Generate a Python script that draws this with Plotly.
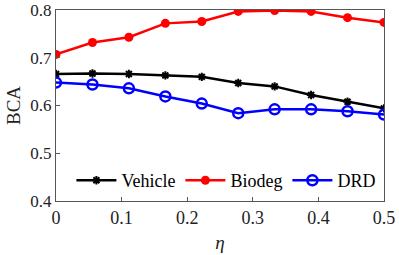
import plotly.graph_objects as go

eta = [0, 0.0556, 0.1111, 0.1667, 0.2222, 0.2778, 0.3333, 0.3889, 0.4444, 0.5]
vehicle = [0.666, 0.667, 0.666, 0.663, 0.660, 0.647, 0.640, 0.622, 0.608, 0.594]
biodeg = [0.707, 0.732, 0.743, 0.772, 0.776, 0.797, 0.799, 0.797, 0.784, 0.774]
drd = [0.648, 0.644, 0.636, 0.619, 0.604, 0.584, 0.592, 0.592, 0.588, 0.581]
x_ticks = [0, 0.1, 0.2, 0.3, 0.4, 0.5]
y_ticks = [0.4, 0.5, 0.6, 0.7, 0.8]

font = "Liberation Serif"

fig = go.Figure()
fig.add_trace(go.Scatter(x=eta, y=vehicle, name="Vehicle", mode="lines+markers",
                         line=dict(color="black", width=2.5),
                         marker=dict(symbol="asterisk-open", size=7, color="black",
                                     line=dict(color="black", width=2))))
fig.add_trace(go.Scatter(x=eta, y=biodeg, name="Biodeg", mode="lines+markers",
                         line=dict(color="red", width=2.5),
                         marker=dict(symbol="circle", size=9, color="red")))
fig.add_trace(go.Scatter(x=eta, y=drd, name="DRD", mode="lines+markers",
                         line=dict(color="blue", width=2.5),
                         marker=dict(symbol="circle-open", size=10, color="blue",
                                     line=dict(color="blue", width=2.5))))

axis_common = dict(showgrid=False, zeroline=False, showline=True, mirror=True,
                   linecolor="#555555", linewidth=1, ticks="inside", ticklen=4,
                   tickcolor="#555555", ticklabeloverflow="allow", automargin=False)

fig.update_xaxes(range=[0, 0.5], tickvals=x_ticks, ticktext=[f"{v:g}" for v in x_ticks],
                 tickfont=dict(family=font, size=18, color="#222222"),
                 title=dict(text="<i>η</i>", font=dict(family=font, size=19, color="#222222"),
                            standoff=9),
                 **axis_common)
fig.update_yaxes(range=[0.4, 0.8], tickvals=y_ticks, ticktext=[f"{v:.1f}" for v in y_ticks],
                 tickfont=dict(family=font, size=17, color="#222222"),
                 title=dict(text="BCA", font=dict(family=font, size=19, color="#222222"),
                            standoff=4),
                 **axis_common)

fig.update_layout(width=399, height=255, margin=dict(l=56, r=15, t=10, b=54, autoexpand=False),
                  paper_bgcolor="white", plot_bgcolor="white",
                  font=dict(family=font, size=18, color="black"),
                  legend=dict(orientation="h", x=0.518, xanchor="center", y=0.01, yanchor="bottom",
                              bgcolor="rgba(255,255,255,0)", font=dict(family=font, size=18),
                              itemwidth=40, tracegroupgap=0))

fig.write_html("out.html", config={"displayModeBar": False},
               post_script="document.body.style.margin='0';")
